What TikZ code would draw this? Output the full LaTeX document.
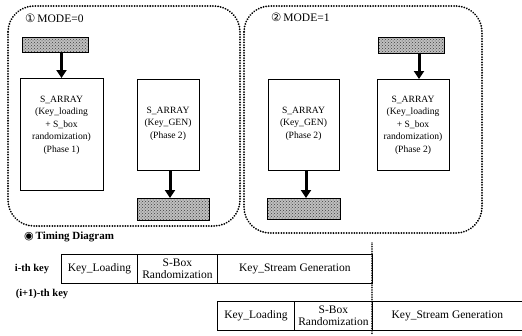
\documentclass[tikz,border=0pt]{standalone}
\usepackage{fontspec}
\setmainfont{Liberation Serif}
\newfontfamily\symfont{DejaVu Sans}
\usetikzlibrary{arrows.meta,patterns}
\begin{document}
\begin{tikzpicture}[x=1pt,y=-1pt,
  group/.style={draw, line width=2pt, dash pattern=on 0.01pt off 2.6pt, line cap=round, rounded corners=26pt},
  sbox/.style={draw, line width=0.8pt, inner sep=0pt, anchor=north west, align=center},
  boxtext/.style={align=center, inner sep=0pt, font=\fontsize{9.6}{12.5}\selectfont},
  graybox/.style={draw, line width=1pt, anchor=north west, inner sep=0pt,
    preaction={fill=gray!50}, pattern=crosshatch dots, pattern color=gray!50!black},
  flow/.style={line width=3pt, -{Triangle[width=10pt,length=8pt]}},
  cell/.style={draw, line width=0.8pt, anchor=north west, inner sep=0pt, align=center,
    minimum height=29pt, font=\fontsize{11.5}{12}\selectfont},
  keylabel/.style={inner sep=0pt, font=\fontsize{10.5}{12}\selectfont\bfseries},
  title/.style={anchor=west, inner sep=0pt, font=\fontsize{11.5}{13}\selectfont},
  vline/.style={line width=1.1pt, dash pattern=on 0.01pt off 1.7pt, line cap=round}
]
\useasboundingbox (0,0) rectangle (522,335);

% ---- the two operating modes ----
\draw[group] (8,6) rectangle (240,226);
\draw[group] (244,6) rectangle (482,233);
\node[title] (m0) at (25,18) {{\symfont ①}\,MODE=0};
\node[title] (m1) at (271,17) {{\symfont ②}\,MODE=1};

% MODE=0
\node[graybox, minimum width=66pt, minimum height=15pt] (g0a) at (22,37) {};
\node[sbox, minimum width=83pt, minimum height=112pt] (b1) at (20,78) {};
\node[boxtext] (b1t) at (61.5,125) {S\_ARRAY\\(Key\_loading\\+ S\_box\\randomization)\\(Phase 1)};
\node[sbox, minimum width=62pt, minimum height=91pt] (b2) at (137,79) {};
\node[boxtext] (b2t) at (168,123.5) {S\_ARRAY\\(Key\_GEN)\\(Phase 2)};
\node[graybox, minimum width=72pt, minimum height=22pt] (g0b) at (137,198) {};
\draw[flow] (g0a.south -| b1t) -- (b1.north -| b1t);
\draw[flow] (b2.south -| 170,0) -- (g0b.north -| 170,0);

% MODE=1
\node[graybox, minimum width=66pt, minimum height=16pt] (g1a) at (378,37) {};
\node[sbox, minimum width=71pt, minimum height=91pt] (b3) at (268,79) {};
\node[boxtext] (b3t) at (303.5,123.5) {S\_ARRAY\\(Key\_GEN)\\(Phase 2)};
\node[sbox, minimum width=72pt, minimum height=91pt] (b4) at (377,79) {};
\node[boxtext] (b4t) at (413,125) {S\_ARRAY\\(Key\_loading\\+ S\_box\\randomization)\\(Phase 2)};
\node[graybox, minimum width=73pt, minimum height=21pt] (g1b) at (267,198) {};
\draw[flow] (g1a.south -| 419,0) -- (b4.north -| 419,0);
\draw[flow] (b3.south -| 306,0) -- (g1b.north -| 306,0);

% ---- timing diagram ----
\node[title, font=\fontsize{11}{13}\selectfont\bfseries] (td) at (24,237) {{\symfont ◉}\,Timing Diagram};

\node[keylabel] (k1) at (32,269) {i-th key};
\node[cell, minimum width=76pt] (l1) at (61,254) {Key\_Loading};
\node[cell, minimum width=80pt] (r1) at (137,254) {S-Box\\Randomization};
\node[cell, minimum width=155pt] (s1) at (217,254) {Key\_Stream Generation};

\node[keylabel] (k2) at (42,294) {(i+1)-th key};
\node[cell, minimum width=77pt] (l2) at (217,301) {Key\_Loading};
\node[cell, minimum width=78pt] (r2) at (294,301) {S-Box\\Randomization};
\node[cell, draw=none, minimum width=150pt] (s2) at (372,301) {Key\_Stream Generation};
\draw[line width=0.8pt] (s2.north west) -- (s2.north east);
\draw[line width=0.8pt] (s2.south west) -- (s2.south east);

% boundary between consecutive keys
\coordinate (vt) at (372,243);
\coordinate (vb) at (372,335);
\draw[vline] (vt) -- (vb);
\end{tikzpicture}
\end{document}
